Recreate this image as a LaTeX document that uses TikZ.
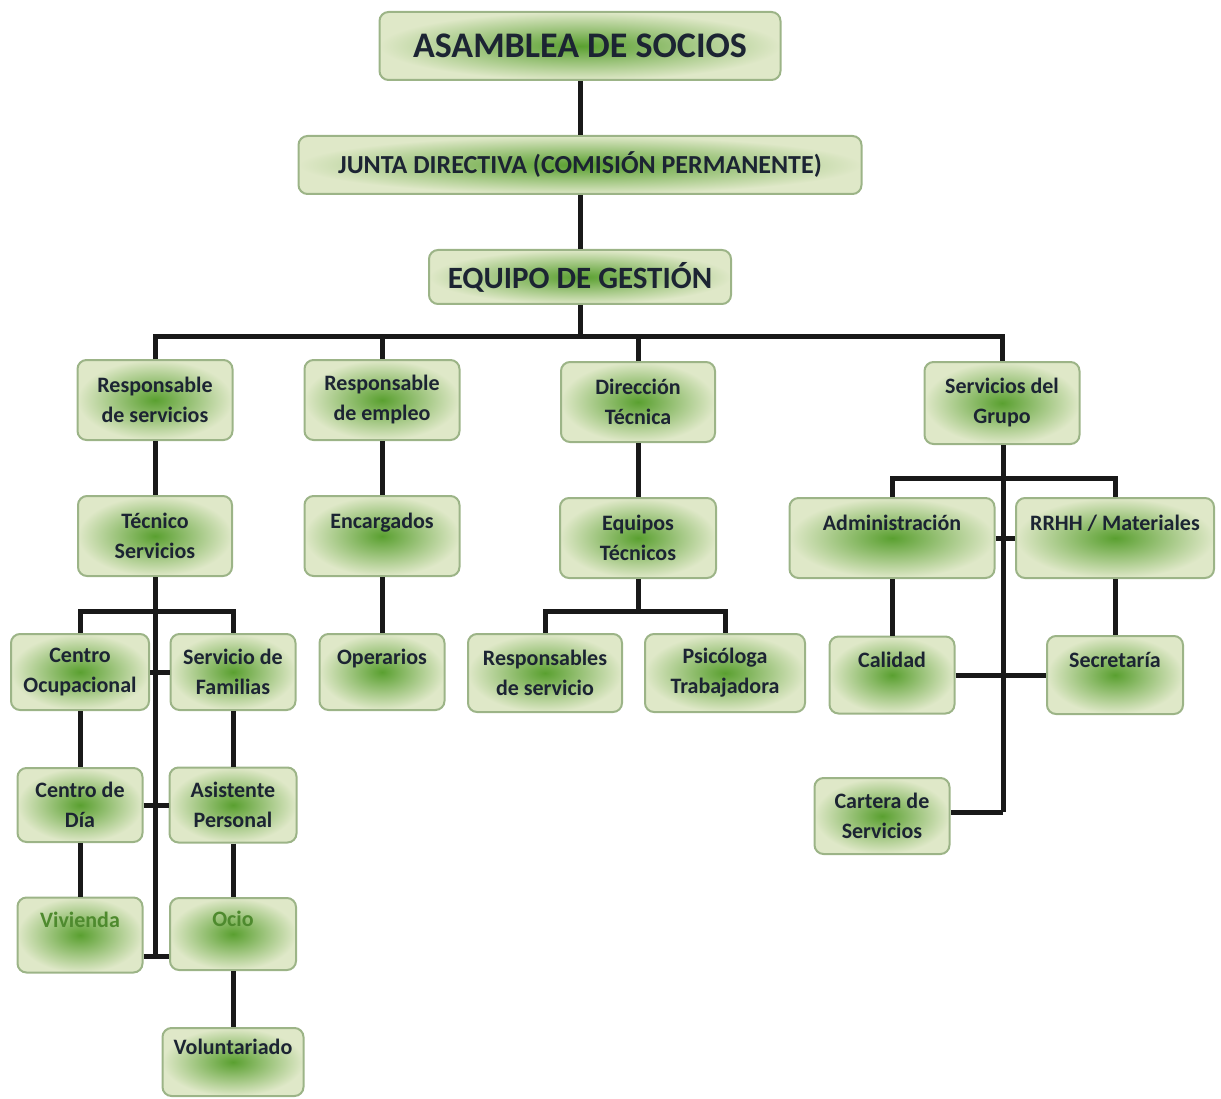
\documentclass[tikz,border=0pt]{standalone}
\usepackage{fontspec}
\setmainfont{Carlito}
\definecolor{boxout}{HTML}{DFE8C8}
\definecolor{boxin}{HTML}{5AA030}
\definecolor{boxline}{HTML}{9CB487}
\definecolor{txt}{HTML}{1C2433}
\definecolor{greentxt}{HTML}{4E8A2E}
\tikzset{
  orgbox/.style={draw=boxline, line width=2pt, rounded corners=9pt,
    shading=radial, inner color=boxin, outer color=boxout,
    text=txt, align=center, inner sep=0pt, anchor=center,
    font=\fontsize{22}{30}\selectfont\bfseries},
  link/.style={line width=5pt, draw=black!90}
}
\begin{document}
\begin{tikzpicture}[x=1pt,y=-1pt]
\useasboundingbox (0,0) rectangle (1221,1099);
% boxes
\node[orgbox, minimum width=401, minimum height=68, font=\fontsize{36}{40}\selectfont\bfseries] (asam) at (580,46) {ASAMBLEA DE SOCIOS};
\node[orgbox, minimum width=563, minimum height=58, font=\fontsize{26}{30}\selectfont\bfseries] (junta) at (580,165) {JUNTA DIRECTIVA (COMISIÓN PERMANENTE)};
\node[orgbox, minimum width=302, minimum height=54, font=\fontsize{31}{34}\selectfont\bfseries] (equipo) at (580,277) {EQUIPO DE GESTIÓN};

\node[orgbox, minimum width=155, minimum height=80] (rserv) at (155,400) {Responsable\\de servicios};
\node[orgbox, minimum width=155, minimum height=80] (remp) at (382,400) {Responsable\\de empleo};
\node[orgbox, minimum width=154, minimum height=80] (dtec) at (638,402) {Dirección\\Técnica};
\node[orgbox, minimum width=155, minimum height=82] (sgrupo) at (1002,403) {Servicios del\\Grupo};

\node[orgbox, minimum width=154, minimum height=80] (tserv) at (155,536) {Técnico\\Servicios};
\node[orgbox, minimum width=155, minimum height=80] (enc) at (382,536) {Encargados\\\mbox{}};
\node[orgbox, minimum width=156, minimum height=80] (eqtec) at (638,538) {Equipos\\Técnicos};
\node[orgbox, minimum width=205, minimum height=80] (adm) at (892,538) {Administración\\\mbox{}};
\node[orgbox, minimum width=198, minimum height=80] (rrhh) at (1115,538) {RRHH / Materiales\\\mbox{}};

\node[orgbox, minimum width=138, minimum height=76] (cocup) at (80,672) {Centro\\Ocupacional};
\node[orgbox, minimum width=125, minimum height=76] (sfam) at (233,672) {Servicio de\\Familias};
\node[orgbox, minimum width=125, minimum height=76] (oper) at (382,672) {Operarios\\\mbox{}};
\node[orgbox, minimum width=154, minimum height=78] (rsv) at (545,673) {Responsables\\de servicio};
\node[orgbox, minimum width=160, minimum height=78] (psico) at (725,673) {Psicóloga\\Trabajadora};
\node[orgbox, minimum width=125, minimum height=77] (calidad) at (892,675) {Calidad\\\mbox{}};
\node[orgbox, minimum width=136, minimum height=78] (secret) at (1115,675) {Secretaría\\\mbox{}};

\node[orgbox, minimum width=125, minimum height=74] (cdia) at (80,805) {Centro de\\Día};
\node[orgbox, minimum width=127, minimum height=75] (asist) at (233,805) {Asistente\\Personal};
\node[orgbox, minimum width=135, minimum height=76] (cartera) at (882,816) {Cartera de\\Servicios};

\node[orgbox, minimum width=125, minimum height=75, text=greentxt] (viv) at (80,935) {Vivienda\\\mbox{}};
\node[orgbox, minimum width=126, minimum height=72, text=greentxt] (ocio) at (233,934) {Ocio\\\mbox{}};
\node[orgbox, minimum width=141, minimum height=68] (volunt) at (233,1062) {Voluntariado\\\mbox{}};

% connectors
\coordinate (bus1) at (580,337);
\coordinate (bus2) at (155,611);
\coordinate (lend) at (155,956);
\coordinate (bus3) at (1003,478);
\coordinate (rend) at (1003,812);
\coordinate (bus4) at (638,611);

\draw[link] (asam.south) -- (junta.north);
\draw[link] (junta.south) -- (equipo.north);
\draw[link] (equipo.south) -- (bus1);
\draw[link] (rserv.north) |- (bus1) -| (sgrupo.north);
\draw[link] (remp.north) -- (remp.north |- bus1);
\draw[link] (dtec.north) -- (dtec.north |- bus1);

\draw[link] (rserv.south) -- (tserv.north);
\draw[link] (tserv.south) -- (lend);
\draw[link] (cocup.north) |- (bus2) -| (sfam.north);
\draw[link] (cocup.east) -- (sfam.west);
\draw[link] (cdia.east) -- (asist.west);
\draw[link] (viv.east |- lend) -- (ocio.west |- lend);
\draw[link] (cocup.south) -- (cdia.north);
\draw[link] (cdia.south) -- (viv.north);
\draw[link] (sfam.south) -- (asist.north);
\draw[link] (asist.south) -- (ocio.north);
\draw[link] (ocio.south) -- (volunt.north);

\draw[link] (remp.south) -- (enc.north);
\draw[link] (enc.south) -- (oper.north);

\draw[link] (dtec.south) -- (eqtec.north);
\draw[link] (eqtec.south) -- (bus4);
\draw[link] (rsv.north) |- (bus4) -| (psico.north);

\draw[link] (sgrupo.south -| rend) -- (rend);
\draw[link] (rend) -- (cartera.east |- rend);
\draw[link] (adm.north) |- (bus3) -| (rrhh.north);
\draw[link] (adm.east) -- (rrhh.west);
\draw[link] (adm.south) -- (calidad.north);
\draw[link] (rrhh.south) -- (secret.north);
\draw[link] (calidad.east) -- (secret.west);
\end{tikzpicture}
\end{document}
